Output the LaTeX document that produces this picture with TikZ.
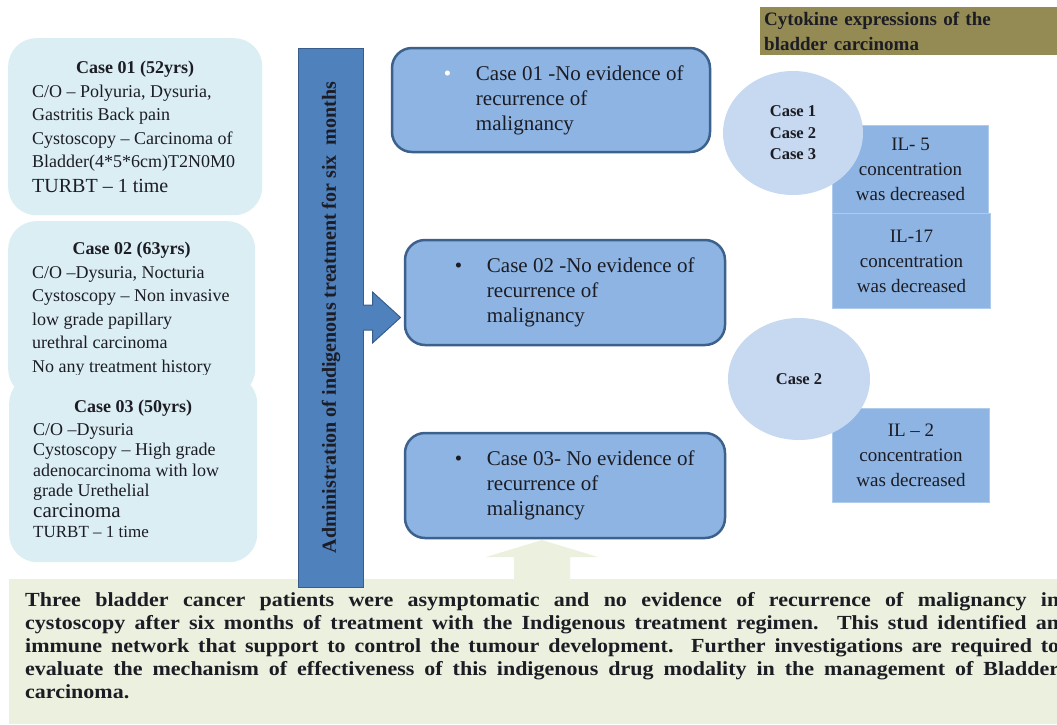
\documentclass[tikz,border=0pt]{standalone}
\usepackage{graphicx}
\usepackage{fontspec}
\setmainfont{Liberation Serif}
\newfontfamily\sumfont[FakeStretch=1.1]{Liberation Serif}
\usetikzlibrary{shapes.geometric,calc}
\definecolor{casefill}{RGB}{219,238,243}
\definecolor{resfill}{RGB}{141,180,226}
\definecolor{resline}{RGB}{60,97,140}
\definecolor{barfill}{RGB}{79,129,189}
\definecolor{barline}{RGB}{56,93,138}
\definecolor{ellfill}{RGB}{198,217,241}
\definecolor{titlefill}{RGB}{148,138,84}
\definecolor{sumfill}{RGB}{235,241,222}
\definecolor{ink}{RGB}{28,28,36}

\begin{document}
\begin{tikzpicture}[x=1pt,y=-1pt,
  casebox/.style={rectangle,rounded corners=28pt,fill=casefill,anchor=north west,inner xsep=24pt,align=left,text=ink,font=\fontsize{18}{23.5}\selectfont},
  resbox/.style={rectangle,rounded corners=20pt,fill=resfill,draw=resline,line width=2.5pt},
  restext/.style={anchor=west,align=left,inner sep=0pt,text=ink,font=\fontsize{21}{25}\selectfont},
  ilbox/.style={rectangle,anchor=north west,fill=resfill,draw=resfill!70!white,line width=1pt,align=center,text=ink,font=\fontsize{19}{25}\selectfont},
  caseell/.style={ellipse,fill=ellfill,minimum width=140pt,minimum height=124pt,align=center,text=ink,font=\bfseries\fontsize{16.5}{21.5}\selectfont}]

\clip (0,0) rectangle (1057,724);

\node[fill=sumfill,anchor=north west,minimum width=1060pt,minimum height=145pt] (summary) at (9,579) {};
\node[anchor=north west,inner sep=0pt,align=left,text=ink,font=\sumfont\bfseries\fontsize{20}{23}\selectfont] (sumtxt) at ([xshift=16pt,yshift=-13pt]summary.north west)
  {\makebox[1034pt][s]{Three bladder cancer patients were asymptomatic and no evidence of recurrence of malignancy in}\\
   \makebox[1034pt][s]{cystoscopy after six months of treatment with the Indigenous treatment regimen. This stud identified an}\\
   \makebox[1034pt][s]{immune network that support to control the tumour development. Further investigations are required to}\\
   \makebox[1034pt][s]{evaluate the mechanism of effectiveness of this indigenous drug modality in the management of Bladder}\\
   carcinoma.};
\coordinate (uptip) at (542,540);
\fill[sumfill] (uptip) -- +(56,17) -- +(28,17) -- +(28,40) -- +(-28,40) -- +(-28,17) -- +(-56,17) -- cycle;

\node[casebox,minimum width=254pt,minimum height=177pt] (case1) at (8,38)
  {\makebox[206pt]{\bfseries Case 01 (52yrs)}\\
   C/O – Polyuria, Dysuria,\\
   Gastritis Back pain\\
   Cystoscopy – Carcinoma of\\
   Bladder(4*5*6cm)T2N0M0\\[1pt]
   {\fontsize{20}{24}\selectfont TURBT – 1 time}};
\node[casebox,minimum width=247pt,minimum height=176pt] (case2) at (8,221)
  {\makebox[199pt]{\bfseries Case 02 (63yrs)}\\
   C/O –Dysuria, Nocturia\\
   Cystoscopy – Non invasive\\
   low grade papillary\\
   urethral carcinoma\\
   No any treatment history};
\node[casebox,minimum width=248pt,minimum height=187pt,font=\fontsize{18}{20.5}\selectfont] (case3) at (9,375)
  {\makebox[200pt]{\bfseries Case 03 (50yrs)}\\[2.5pt]
   C/O –Dysuria\\
   Cystoscopy – High grade\\
   adenocarcinoma with low\\
   grade Urethelial\\
   {\fontsize{21}{24}\selectfont carcinoma}\\
   {\fontsize{17}{20}\selectfont TURBT – 1 time}};

\node[rectangle,fill=barfill,draw=barline,line width=1pt,minimum width=65pt,minimum height=539pt,text=ink] (bar) at (331,317.5)
  {\rotatebox{90}{\bfseries\fontsize{20}{24}\selectfont Administration of indigenous treatment for six~~months}};
\filldraw[fill=barfill,draw=barline,line width=1pt,line join=miter] (bar.east) +(-1,-12.5) -- +(8.5,-12.5) -- +(8.5,-25.5) -- +(36.5,0) -- +(8.5,25.5) -- +(8.5,12.5) -- +(-1,12.5);

\node[resbox,minimum width=318pt,minimum height=104pt] (res1) at (551,100) {};
\node[restext] (res1txt) at ([xshift=53pt]res1.west)
  {\makebox[32pt][l]{\textcolor{white}{\textbullet}}Case 01 -No evidence of\\ \hspace*{32pt}recurrence of\\ \hspace*{32pt}malignancy};
\node[resbox,minimum width=320pt,minimum height=105pt] (res2) at (565,292.5) {};
\node[restext] (res2txt) at ([xshift=51pt]res2.west)
  {\makebox[32pt][l]{\textbullet}Case 02 -No evidence of\\ \hspace*{32pt}recurrence of\\ \hspace*{32pt}malignancy};
\node[resbox,minimum width=320pt,minimum height=105pt] (res3) at (565,485.5) {};
\node[restext] (res3txt) at ([xshift=51pt]res3.west)
  {\makebox[32pt][l]{\textbullet}Case 03- No evidence of\\ \hspace*{32pt}recurrence of\\ \hspace*{32pt}malignancy};

\node[fill=titlefill,anchor=north west,minimum width=300pt,minimum height=48pt,text width=292pt,inner xsep=3pt,align=left,text=ink,font=\bfseries\fontsize{19}{25}\selectfont] (cytotitle) at (760,7)
  {Cytokine expressions of the\\ bladder carcinoma};

\node[ilbox,minimum width=156pt,minimum height=88pt] (il5) at (832,125) {IL- 5\\ concentration\\ was decreased};
\node[ilbox,minimum width=158pt,minimum height=95pt] (il17) at (832,213) {IL-17\\ concentration\\ was decreased};
\node[ilbox,minimum width=157pt,minimum height=94pt] (il2) at (832,408) {IL – 2\\ concentration\\ was decreased};

\node[caseell] (ell1) at (793,133) {Case 1\\ Case 2\\ Case 3};
\node[caseell,minimum width=142pt,minimum height=122pt] (ell2) at (799,379) {Case 2};
\end{tikzpicture}
\end{document}
